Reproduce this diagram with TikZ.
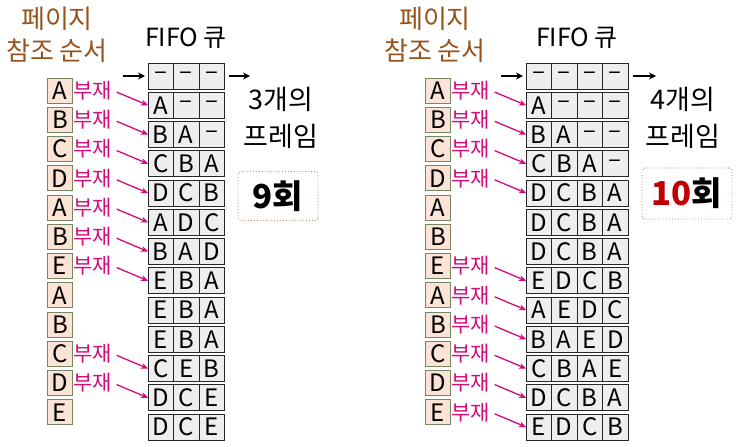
\documentclass[tikz,border=0pt]{standalone}
\usepackage{fontspec}
\setmainfont{Noto Sans CJK KR}
\usetikzlibrary{arrows.meta,positioning}
\definecolor{titlebrown}{RGB}{150,84,28}
\definecolor{missmagenta}{RGB}{212,10,122}
\definecolor{refpeach}{RGB}{251,228,213}
\definecolor{refgreen}{RGB}{118,134,100}
\definecolor{cellgray}{RGB}{238,238,238}
\definecolor{countbrown}{RGB}{196,128,100}
\definecolor{countred}{RGB}{192,0,0}
\newcommand{\emptyslot}{–}

\begin{document}
\begin{tikzpicture}[x=1pt,y=-1pt,
    cell/.style={rectangle, draw=black!85, fill=cellgray, line width=0.8pt, minimum width=25.5pt, minimum height=26pt, inner sep=0pt, outer sep=0pt, font=\fontsize{24}{24}\selectfont},
    refbox/.style={rectangle, draw=refgreen, fill=refpeach, line width=0.8pt, minimum width=25pt, minimum height=25pt, inner sep=0pt, font=\fontsize{24}{24}\selectfont},
    miss/.style={text=missmagenta, inner sep=0.5pt, font=\fontsize{21}{21}\selectfont},
    missarrow/.style={-{Stealth[length=7pt,width=6pt]}, missmagenta, line width=1.3pt, shorten <=4pt},
    arrow/.style={-{Stealth[length=7pt,width=7pt]}, line width=1.6pt},
    title/.style={text=titlebrown, align=center, font=\fontsize{26}{32}\selectfont},
    qname/.style={font=\fontsize{25}{25}\selectfont},
    info/.style={align=center, font=\fontsize{27}{37}\selectfont},
    countbox/.style={rectangle, draw=countbrown, dotted, line width=0.9pt, rounded corners=3pt, font=\bfseries\fontsize{33}{33}\selectfont},
]
\useasboundingbox (0,0) rectangle (742,447);

% ---- 3 frames ----
\node[title] (ltitle) at (57,35) {페이지\\참조 순서};
\node[qname] (lqname) at (186,38) {FIFO 큐};
\node[cell] (lh1) at (160.75,76) {\emptyslot};
\node[cell, right=0pt of lh1] (lh2) {\emptyslot};
\node[cell, right=0pt of lh2] (lh3) {\emptyslot};
\coordinate (lin) at (123,76);
\coordinate (lout) at (250,76);
\draw[arrow, shorten >=3pt] (lin) -- (lh1.west);
\draw[arrow, shorten <=4pt] (lh3.east) -- (lout);

\foreach \r/\a/\b/\c in {1/A/\emptyslot/\emptyslot, 2/B/A/\emptyslot, 3/C/B/A, 4/D/C/B,
    5/A/D/C, 6/B/A/D, 7/E/B/A, 8/E/B/A, 9/E/B/A, 10/C/E/B, 11/D/C/E, 12/D/C/E} {
  \node[cell] (lq\r-1) at (160.75,76+29.25*\r) {\a};
  \node[cell, right=0pt of lq\r-1] (lq\r-2) {\b};
  \node[cell, right=0pt of lq\r-2] (lq\r-3) {\c};
}
\foreach \i/\p in {1/A,2/B,3/C,4/D,5/A,6/B,7/E,8/A,9/B,10/C,11/D,12/E}
  \node[refbox] (la\i) at (60,90.5+29.25*\i-29.25) {\p};
\foreach \i in {1,2,3,4,5,6,7,10,11} {
  \node[miss, right=0pt of la\i] (lm\i) {부재};
  \draw[missarrow] (lm\i.east) -- (lq\i-1.west);
}
\node[info] (lframes) at (281,117.5) {3개의\\프레임};
\node[countbox, minimum width=80pt, minimum height=49pt] (lcount) at (278,196) {9회};

% ---- 4 frames ----
\node[title] (rtitle) at (435,35) {페이지\\참조 순서};
\node[qname] (rqname) at (577,38) {FIFO 큐};
\node[cell] (rh1) at (538.75,76) {\emptyslot};
\node[cell, right=0pt of rh1] (rh2) {\emptyslot};
\node[cell, right=0pt of rh2] (rh3) {\emptyslot};
\node[cell, right=0pt of rh3] (rh4) {\emptyslot};
\coordinate (rin) at (501,76);
\coordinate (rout) at (656,76);
\draw[arrow, shorten >=3pt] (rin) -- (rh1.west);
\draw[arrow, shorten <=5pt] (rh4.east) -- (rout);

\foreach \r/\a/\b/\c/\d in {1/A/\emptyslot/\emptyslot/\emptyslot, 2/B/A/\emptyslot/\emptyslot,
    3/C/B/A/\emptyslot, 4/D/C/B/A, 5/D/C/B/A, 6/D/C/B/A, 7/E/D/C/B, 8/A/E/D/C,
    9/B/A/E/D, 10/C/B/A/E, 11/D/C/B/A, 12/E/D/C/B} {
  \node[cell] (rq\r-1) at (538.75,76+29.25*\r) {\a};
  \node[cell, right=0pt of rq\r-1] (rq\r-2) {\b};
  \node[cell, right=0pt of rq\r-2] (rq\r-3) {\c};
  \node[cell, right=0pt of rq\r-3] (rq\r-4) {\d};
}
\foreach \i/\p in {1/A,2/B,3/C,4/D,5/A,6/B,7/E,8/A,9/B,10/C,11/D,12/E}
  \node[refbox] (ra\i) at (438,90.5+29.25*\i-29.25) {\p};
\foreach \i in {1,2,3,4,7,8,9,10,11,12} {
  \node[miss, right=0pt of ra\i] (rm\i) {부재};
  \draw[missarrow] (rm\i.east) -- (rq\i-1.west);
}
\node[info] (rframes) at (683,117.5) {4개의\\프레임};
\node[countbox, minimum width=90pt, minimum height=51pt] (rcount) at (687,193.5) {\textcolor{countred}{10}회};
\end{tikzpicture}
\end{document}
